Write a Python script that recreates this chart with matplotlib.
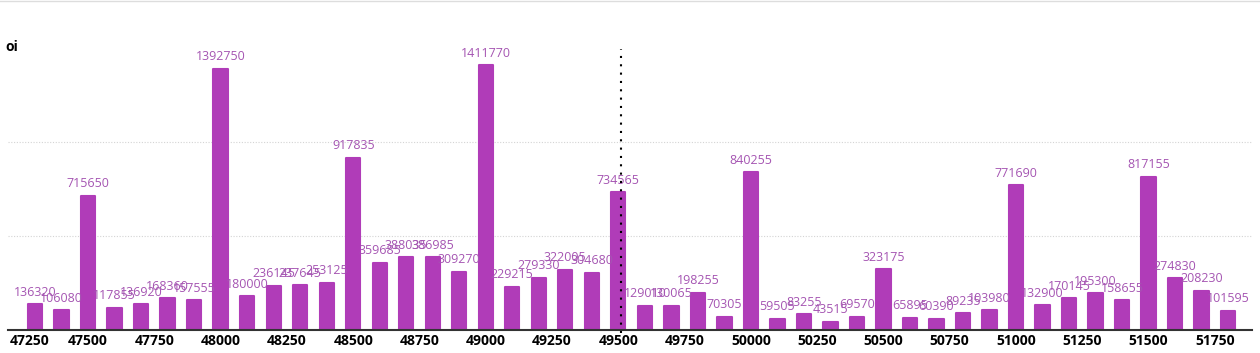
import matplotlib
matplotlib.use("Agg")
import matplotlib.pyplot as plt
import matplotlib.transforms as mtransforms
from matplotlib.lines import Line2D

# strikes and open interest
strikes = list(range(47300, 51900, 100))
oi = [136320, 106080, 715650, 117855, 136920, 168360, 157555, 1392750,
      180000, 236145, 237645, 253125, 917835, 359685, 388035, 386985,
      309270, 1411770, 229215, 279330, 322005, 304680, 734565, 129010,
      130065, 198255, 70305, 840255, 59505, 83255, 43515, 69570,
      323175, 65895, 60390, 89235, 103980, 771690, 132900, 170145,
      195300, 158655, 817155, 274830, 208230, 101595]
tick_vals = list(range(47250, 51751, 250))
spot = 49510

bar_col = "#b03cb8"
lab_col = "#a555b2"

plt.rcParams["font.family"] = ["Open Sans", "DejaVu Sans"]

fig = plt.figure(figsize=(12.6, 3.53), dpi=100)
ax = fig.add_axes([8 / 1260, 23 / 353, 1244 / 1260, 278 / 353])

bars = ax.bar(strikes, oi, width=54, color=bar_col, edgecolor=bar_col,
              linewidth=1.5, joinstyle="round", zorder=3)
for b, v in zip(bars, oi):
    ax.annotate(str(v), (b.get_x() + b.get_width() / 2, b.get_height()),
                xytext=(0, 4), textcoords="offset points", ha="center",
                va="bottom", fontsize=9, color=lab_col, zorder=4)

ax.set_xlim(47198, 51890)
ax.set_ylim(0, max(oi) * 1.05)
ax.set_xticks(tick_vals)
ax.set_xticklabels([str(t) for t in tick_vals], fontsize=10, fontweight="bold")
ax.tick_params(axis="x", length=0, pad=3)
# first label is pushed inward so it stays on the canvas
first = ax.get_xticklabels()[0]
first.set_transform(first.get_transform() +
                    mtransforms.ScaledTranslation(8 / 100, 0, fig.dpi_scale_trans))
ax.set_yticks([500000, 1000000])
ax.tick_params(axis="y", length=0, labelleft=False)
ax.grid(axis="y", linestyle=(0, (1, 1.5)), color="#d4d4d4", linewidth=0.8, zorder=0)

for s in ["top", "right", "left"]:
    ax.spines[s].set_visible(False)
ax.spines["bottom"].set_color("#333333")
ax.spines["bottom"].set_linewidth(1.5)
ax.spines["bottom"].set_zorder(5)

ax.axvline(spot, ymin=-0.01, ymax=1.01, color="black", linestyle=(0, (1, 3)),
           linewidth=1.5, zorder=6, clip_on=False)

fig.text(5 / 1260, 1 - 47 / 353, "oi", fontsize=10, fontweight="bold",
         va="center", ha="left")
fig.add_artist(Line2D([0, 1], [0.998, 0.998], color="#dddddd", linewidth=1))

fig.savefig("out.png", dpi=100)
